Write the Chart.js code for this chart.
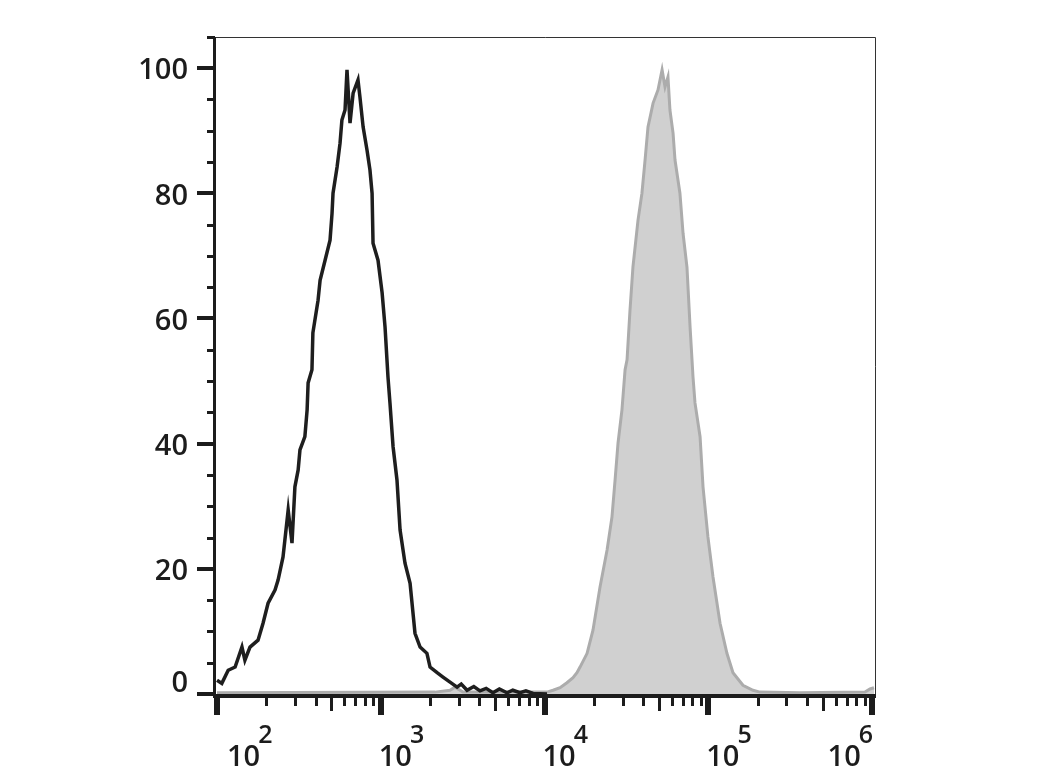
<!DOCTYPE html>
<html>
<head>
<meta charset="utf-8">
<script src="https://cdn.jsdelivr.net/npm/chart.js@4"></script>
<style>
  html, body { margin: 0; padding: 0; background: #fff; }
  canvas { display: block; }
</style>
</head>
<body>
<canvas id="chart" width="1040" height="780"></canvas>
<script>
// control (black line): fluorescence value / % of max
const ctrlX = [100, 107, 117, 129, 142, 148, 159, 178, 191, 205, 226, 236, 253, 272, 287, 299, 313, 321, 344, 355,
  360, 380, 385, 414, 426, 457, 490, 504, 511, 541, 564, 579, 605, 622, 649, 678, 726, 746, 780, 824,
  859, 885, 897, 962, 1019, 1062, 1107, 1138, 1189, 1256, 1312, 1406, 1510, 1618, 1738, 1914, 2000, 2208, 2399, 2649,
  2924, 3100, 3365, 3700, 4036, 4400, 4842, 5300, 5902, 6400, 7079, 7700, 8511, 10351];
const ctrlY = [2.2, 1.7, 3.8, 4.3, 7.5, 5.4, 7.5, 8.6, 11.3, 14.5, 16.6, 18.2, 21.9, 29.4, 24.1, 33.1, 35.8, 39.0, 41.1, 45.4,
  49.7, 51.8, 57.7, 62.9, 66.1, 69.3, 72.5, 76.8, 80.0, 84.2, 88.0, 91.7, 93.3, 99.7, 91.2, 96.0, 98.1, 95.4, 90.6, 86.9,
  83.7, 80.0, 72.0, 69.3, 64.1, 58.6, 50.6, 46.5, 39.5, 34.2, 26.2, 20.9, 17.7, 9.7, 7.5, 6.5, 4.3, 3.4, 2.7, 1.9,
  1.1, 1.6, 0.6, 1.2, 0.5, 0.9, 0.2, 0.8, 0.2, 0.6, 0.2, 0.5, 0.1, 0.0];

// stained sample (grey filled)
const stainX = [100, 2143, 2649, 2838, 3177, 5346, 10351, 11272, 12445, 13709, 14928, 15776, 16482, 18197, 19770, 21827, 24099, 25823, 26977, 28119,
  29717, 31046, 31916, 33266, 34674, 37239, 39355, 41115, 42855, 46026, 49317, 52240, 54450, 56754, 58345, 60954, 62661, 67143, 70146, 74131,
  77446, 80724, 82985, 89125, 92897, 99540, 106905, 118032, 130017, 141579, 162930, 187499, 207014, 363078, 905733, 972747, 1028016];
const stainY = [0.2, 0.3, 0.6, 1.1, 0.3, 0.3, 0.3, 0.6, 1.0, 1.8, 2.6, 3.4, 4.3, 6.5, 10.2, 17.1, 23.0, 28.3, 34.2, 40.1,
  45.4, 51.8, 53.4, 61.3, 68.2, 75.7, 80.0, 85.3, 90.6, 94.4, 96.5, 99.7, 97.0, 98.6, 93.3, 89.6, 85.3, 80.0, 73.6, 68.2,
  58.6, 50.6, 46.5, 41.1, 33.1, 25.1, 18.7, 11.3, 6.5, 3.4, 1.4, 0.6, 0.3, 0.2, 0.3, 0.8, 1.0];

// axes
const yMajor = [0, 20, 40, 60, 80, 100];
const yMinor = [5, 10, 15, 25, 30, 35, 45, 50, 55, 65, 70, 75, 85, 90, 95, 105];
const xDecades = [2, 3, 4, 5, 6];
const xMinorMult = [2, 3, 4, 5, 6, 7, 8, 9];

const pts = (xs, ys) => xs.map((x, i) => ({ x, y: ys[i] }));

const INK = "#1c1c1c";
const FONT = '"Open Sans", "Noto Sans", "DejaVu Sans", sans-serif';

const axesPlugin = {
  id: "flowAxes",
  afterDatasetsDraw(chart) {
    const { ctx, chartArea: a, scales: { x, y } } = chart;
    ctx.save();

    // frame top / right
    ctx.strokeStyle = "#333";
    ctx.lineWidth = 1;
    ctx.beginPath();
    ctx.moveTo(a.left, a.top - 0.5);
    ctx.lineTo(a.right + 0.5, a.top - 0.5);
    ctx.lineTo(a.right + 0.5, a.bottom + 2);
    ctx.stroke();

    ctx.fillStyle = INK;
    // y axis line
    ctx.fillRect(a.left - 2, a.top - 1, 3, a.bottom - a.top + 5);
    // x axis line
    ctx.fillRect(a.left - 2, a.bottom, a.right - a.left + 3, 4);

    // y ticks
    yMajor.forEach(v => {
      const py = Math.round(y.getPixelForValue(v));
      ctx.fillRect(a.left - 18, py - 2, 18, 4);
    });
    yMinor.forEach(v => {
      const py = Math.round(y.getPixelForValue(v));
      ctx.fillRect(a.left - 8, py - 1, 8, 3);
    });

    // x ticks
    xDecades.forEach((d, i) => {
      const px = Math.round(x.getPixelForValue(Math.pow(10, d)));
      ctx.fillRect(px - 3, a.bottom + 3, 6, 18);
      if (i < xDecades.length - 1) {
        xMinorMult.forEach(m => {
          const mx = Math.round(x.getPixelForValue(m * Math.pow(10, d)));
          ctx.fillRect(mx - 1, a.bottom + 3, 3, m === 5 ? 14 : 9);
        });
      }
    });

    // y labels
    ctx.font = "600 29px " + FONT;
    ctx.textAlign = "right";
    ctx.textBaseline = "middle";
    yMajor.forEach(v => {
      const py = y.getPixelForValue(v);
      ctx.fillText(String(v), 188, v === 0 ? py - 10 : py + 3);
    });

    // x labels: 10 with raised exponent
    ctx.textAlign = "left";
    ctx.textBaseline = "alphabetic";
    const baseFont = "600 29px " + FONT, expFont = "600 25px " + FONT;
    xDecades.forEach((d, i) => {
      const px = x.getPixelForValue(Math.pow(10, d));
      ctx.font = baseFont;
      const wBase = ctx.measureText("10").width;
      ctx.font = expFont;
      const wExp = ctx.measureText(String(d)).width;
      let left = px - 2;
      if (i === 0) left = px + 10;
      if (i === xDecades.length - 1) left = px + 3 - wBase - wExp;
      ctx.font = baseFont;
      ctx.fillText("10", left, 766);
      ctx.font = expFont;
      ctx.fillText(String(d), left + wBase - 2, 743);
    });

    ctx.restore();
  }
};

new Chart(document.getElementById("chart").getContext("2d"), {
  type: "line",
  data: {
    datasets: [
      {
        label: "Control",
        data: pts(ctrlX, ctrlY),
        borderColor: "#1e1e1e",
        borderWidth: 3.5,
        pointRadius: 0,
        tension: 0,
        fill: false,
        order: 1
      },
      {
        label: "Stained",
        data: pts(stainX, stainY),
        borderColor: "#acacac",
        backgroundColor: "#d0d0d0",
        borderWidth: 3,
        pointRadius: 0,
        tension: 0,
        fill: "origin",
        order: 2
      }
    ]
  },
  options: {
    responsive: false,
    animation: false,
    layout: { padding: { left: 215, right: 165, top: 38, bottom: 86 } },
    plugins: { legend: { display: false }, tooltip: { enabled: false } },
    scales: {
      x: { type: "logarithmic", min: 97.2, max: 1.043e6, display: false },
      y: { type: "linear", min: 0, max: 104.8, display: false }
    }
  },
  plugins: [axesPlugin]
});
</script>
</body>
</html>
